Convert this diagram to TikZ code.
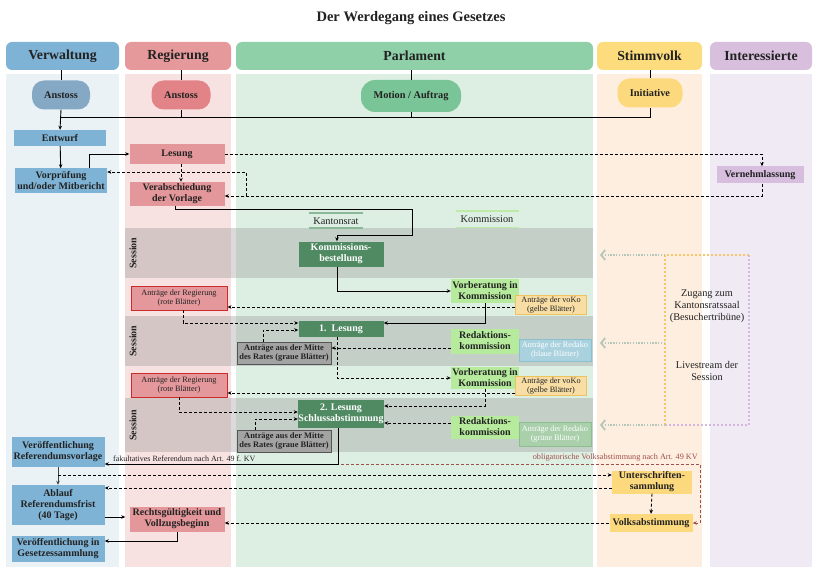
\documentclass[tikz,border=0pt]{standalone}
\usepackage{fontspec}
\setmainfont{Liberation Serif}
\usetikzlibrary{arrows.meta}
\definecolor{vwhead}{HTML}{7FB3D5}
\definecolor{vwbg}{HTML}{EAF2F6}
\definecolor{vwpill}{HTML}{85A9C5}
\definecolor{rghead}{HTML}{E6999B}
\definecolor{rgbg}{HTML}{F8E1E1}
\definecolor{rgpill}{HTML}{E28487}
\definecolor{rgnode}{HTML}{E3979A}
\definecolor{pahead}{HTML}{8FD0A8}
\definecolor{pabg}{HTML}{DDEEE3}
\definecolor{papill}{HTML}{7AC597}
\definecolor{svhead}{HTML}{FDDC7E}
\definecolor{svbg}{HTML}{FDEEDF}
\definecolor{svnode}{HTML}{FDD97D}
\definecolor{inhead}{HTML}{D8BFDD}
\definecolor{inbg}{HTML}{EFEAF3}
\definecolor{innode}{HTML}{D7BEDF}
\definecolor{sessgrey}{HTML}{969696}
\definecolor{darkgr}{HTML}{4F8A63}
\definecolor{lightgr}{HTML}{B6EB9E}
\definecolor{vokofill}{HTML}{F8DEA5}
\definecolor{vokodraw}{HTML}{EEC35E}
\definecolor{redfill}{HTML}{E4989C}
\definecolor{reddraw}{HTML}{CC2B2B}
\definecolor{greyfill}{HTML}{A3A3A3}
\definecolor{greydraw}{HTML}{555555}
\definecolor{bluefill}{HTML}{A9D2DE}
\definecolor{bluedraw}{HTML}{8CC0CF}
\definecolor{greenfill}{HTML}{A9CFAB}
\definecolor{greendraw}{HTML}{8DBE90}
\definecolor{krline}{HTML}{8CB89A}
\definecolor{koline}{HTML}{BDEBA5}
\definecolor{brownred}{HTML}{A0504A}
\definecolor{dotorange}{HTML}{F7C66B}
\definecolor{dotpurple}{HTML}{D4B6DE}
\definecolor{dotgrey}{HTML}{B5C6BB}
\definecolor{txt}{HTML}{222222}
\begin{document}
\begin{tikzpicture}[x=1pt,y=-1pt,
  header/.style={rounded corners=6pt, minimum height=28pt, inner sep=0pt,
    font=\bfseries\fontsize{13.8}{15}\selectfont, text=txt},
  pill/.style={rounded corners=12pt, minimum height=29pt, inner sep=2pt,
    font=\bfseries\fontsize{10.3}{11}\selectfont, text=txt},
  box/.style={minimum width=#1, inner sep=0.5pt, align=center,
    font=\bfseries\fontsize{10}{11}\selectfont, text=txt},
  small/.style={minimum width=#1, inner sep=0.5pt, align=center, line width=0.9pt,
    font=\fontsize{8.2}{9}\selectfont, text=txt},
  ln/.style={line width=0.9pt, draw=black},
  arr/.style={ln, -{Stealth[length=4pt,width=3.5pt]}},
  darr/.style={arr, dash pattern=on 3pt off 2pt},
  dotarr/.style={draw=dotgrey, line width=1.4pt, dash pattern=on 1.4pt off 1.4pt,
    -{Straight Barb[length=4pt,width=10pt,line width=1.8pt]}},
  sesslbl/.style={rotate=90, font=\bfseries\fontsize{10}{11}\selectfont, text=txt}
]
\useasboundingbox (0,0) rectangle (819,572);
\node[font=\bfseries\fontsize{14.5}{16}\selectfont, text=txt] (title) at (411,18) {Der Werdegang eines Gesetzes};
% lane backgrounds
\fill[vwbg] (6,74) rectangle (119,567);
\fill[rgbg] (125,74) rectangle (231,567);
\fill[pabg] (236,74) rectangle (593,567);
\fill[svbg] (597,74) rectangle (702,567);
\fill[inbg] (710,74) rectangle (812,567);
% headers
\node[header, fill=vwhead, minimum width=113pt] (hV) at (62.5,56) {Verwaltung};
\node[header, fill=rghead, minimum width=106pt] (hR) at (178,56) {Regierung};
\node[header, fill=pahead, minimum width=357pt] (hP) at (414.5,56) {Parlament};
\node[header, fill=svhead, minimum width=105pt] (hS) at (649.5,56) {Stimmvolk};
\node[header, fill=inhead, minimum width=102pt] (hI) at (761,56) {Interessierte};
% session bands
\fill[sessgrey, opacity=0.35] (125,228) rectangle (593,278);
\fill[sessgrey, opacity=0.35] (125,316) rectangle (593,366);
\fill[sessgrey, opacity=0.35] (125,398) rectangle (593,452);
\node[sesslbl] (s1) at (133,253) {Session};
\node[sesslbl] (s2) at (133,341) {Session};
\node[sesslbl] (s3) at (133,425) {Session};
% pills
\node[pill, fill=vwpill, minimum width=58pt] (aV) at (61,95) {Anstoss};
\node[pill, fill=rgpill, minimum width=59pt] (aR) at (181,95) {Anstoss};
\node[pill, fill=papill, minimum width=100pt, minimum height=32pt, rounded corners=14pt] (mot) at (411,96) {Motion / Auftrag};
\node[pill, fill=svnode, minimum width=65pt] (ini) at (650,93) {Initiative};
\draw[ln] (aV.north |- hV.south) -- (aV.north);
\draw[ln] (aR.north |- hR.south) -- (aR.north);
\draw[ln] (mot.north |- hP.south) -- (mot.north);
\draw[ln] (ini.north |- hS.south) -- (ini.north);
\coordinate (j) at (61,117);
\draw[ln] (aV.south |- j) -| (ini.south);
\draw[ln] (aR.south) -- (aR.south |- j);
\draw[ln] (mot.south) -- (mot.south |- j);
% Verwaltung / Regierung top
\node[box=92pt, fill=vwhead, minimum height=16pt] (entw) at (60,138) {Entwurf};
\draw[arr] (aV.south) -- (entw.north);
\node[box=92pt, fill=vwhead, minimum height=25pt] (vorp) at (61,181) {Vorprüfung\\und/oder Mitbericht};
\node[box=95pt, fill=rgnode, minimum height=20pt] (les) at (177,154) {Lesung};
\node[box=95pt, fill=rgnode, minimum height=24pt] (verab) at (177,194) {Verabschiedung\\der Vorlage};
\node[box=87pt, fill=innode, minimum height=17pt] (vern) at (760,175) {Vernehmlassung};
\draw[arr] (entw) -- (vorp);
\draw[arr] (89,168) |- (les.west);
\draw[darr] ([xshift=4pt]les.south) -- ([xshift=4pt]verab.north);
\draw[darr] (les.east) -| ([xshift=2pt]vern.north);
\coordinate (vb) at (246,196);
\draw[darr] ([xshift=2pt]vern.south) |- (verab.east |- vb);
\draw[darr] (vb) |- (vorp.east |- 0,172);
% Kantonsrat / Kommission labels
\node[font=\fontsize{10.3}{11}\selectfont, text=txt] (kr) at (336,221) {Kantonsrat};
\draw[krline, line width=1.6pt] (309,213) -- (363,213);
\draw[krline, line width=1.6pt] (309,228) -- (363,228);
\node[font=\fontsize{10.3}{11}\selectfont, text=txt] (ko) at (487,219) {Kommission};
\draw[koline, line width=1.6pt] (456,211) -- (519,211);
\draw[koline, line width=1.6pt] (456,227.5) -- (519,227.5);
% Session 1
\node[box=85pt, fill=darkgr, text=white, minimum height=25pt] (kb) at (341,254) {Kommissions-\\bestellung};
\draw[arr] ([xshift=-2pt]verab.south) |- (412,209) |- ([xshift=-4pt]kb.north |- 0,235) -- ([xshift=-4pt]kb.north);
\node[box=68pt, fill=lightgr, minimum height=24pt, inner sep=0pt] (vb1) at (485,291) {Vorberatung in\\Kommission};
\draw[arr] ([xshift=-4pt]kb.south) |- (vb1.west);
\node[small=71pt, fill=vokofill, draw=vokodraw, minimum height=19pt] (voko1) at (551,305) {Anträge der voKo\\(gelbe Blätter)};
\node[small=96pt, fill=redfill, draw=reddraw, minimum height=24pt] (ar1) at (179,298) {Anträge der Regierung\\(rote Blätter)};
\draw[darr] (voko1.west |- 0,307) -- (ar1.east |- 0,307);
% Session 2
\node[box=85pt, fill=darkgr, text=white, minimum height=16pt] (l1) at (341,329) {1.\ \ Lesung};
\draw[arr] (vb1.south) |- (l1.east |- 0,323);
\draw[darr] ([xshift=4pt]ar1.south) |- (l1.west |- 0,323);
\node[small=94pt, fill=greyfill, draw=greydraw, minimum height=22pt, font=\bfseries\fontsize{8.4}{9.2}\selectfont] (g1) at (284,353) {Anträge aus der Mitte\\des Rates (graue Blätter)};
\draw[darr] (g1.north -| 263,0) |- (l1.west |- 0,330);
\node[box=68pt, fill=lightgr, minimum height=25pt] (rk1) at (485,341) {Redaktions-\\kommission};
\node[small=72pt, fill=bluefill, draw=bluedraw, text=white, minimum height=22pt] (blau) at (555,350) {Anträge der Redako\\(blaue Blätter)};
\draw[darr] (rk1.west |- 0,348) -- (g1.east |- 0,348);
\node[box=68pt, fill=lightgr, minimum height=22pt, inner sep=0pt] (vb2) at (485,378) {Vorberatung in\\Kommission};
\draw[darr] ([xshift=-4pt]l1.south) |- (vb2.west);
\node[small=71pt, fill=vokofill, draw=vokodraw, minimum height=19pt] (voko2) at (551,386) {Anträge der voKo\\(gelbe Blätter)};
\node[small=96pt, fill=redfill, draw=reddraw, minimum height=24pt] (ar2) at (179,385) {Anträge der Regierung\\(rote Blätter)};
\draw[darr] (voko2.west |- 0,393) -- (ar2.east |- 0,393);
% Session 3
\node[box=85pt, fill=darkgr, text=white, minimum height=28pt] (l2) at (341,414) {2. Lesung\\Schlussabstimmung};
\draw[darr] (vb2.south) |- (l2.east |- 0,406);
\draw[darr] (ar2.south) |- (l2.west |- 0,412);
\node[small=94pt, fill=greyfill, draw=greydraw, minimum height=22pt, font=\bfseries\fontsize{8.4}{9.2}\selectfont] (g2) at (284,441) {Anträge aus der Mitte\\des Rates (graue Blätter)};
\draw[darr] (g2.north -| 255,0) |- (l2.west |- 0,419);
\node[box=68pt, fill=lightgr, minimum height=23pt] (rk2) at (485,427) {Redaktions-\\kommission};
\node[small=72pt, fill=greenfill, draw=greendraw, text=white, minimum height=24pt] (gruen) at (555,434) {Anträge der Redako\\(grüne Blätter)};
\draw[darr] (rk2.west |- 0,423) -- (l2.east |- 0,423);
% after parliament
\node[box=93pt, fill=vwhead, minimum height=30pt] (vr) at (58,452) {Veröffentlichung\\Referendumsvorlage};
\coordinate (cr) at (338,464);
\draw[arr] ([xshift=-3pt]l2.south) -- (cr) -- (vr.east |- cr);
\node[anchor=west, font=\fontsize{8}{9}\selectfont, text=txt, inner sep=0pt] (fak) at (113,459) {fakultatives Referendum nach Art. 49 f. KV};
\node[box=83pt, fill=svnode, minimum height=18pt] (va) at (651,523) {Volksabstimmung};
\coordinate (ob) at (700,464);
\draw[brownred, line width=0.9pt, dash pattern=on 3pt off 2pt, -{Stealth[length=4pt,width=3.5pt]}] ([xshift=3pt]cr) -- (ob) |- (va.east);
\node[anchor=east, font=\fontsize{8.2}{9}\selectfont, text=brownred, inner sep=0pt] (obl) at (698,458) {obligatorische Volksabstimmung nach Art. 49 KV};
\node[box=93pt, fill=vwhead, minimum height=40pt] (ab) at (58,505) {Ablauf\\Referendumsfrist\\(40 Tage)};
\draw[arr, draw=black!75] (vr.south) -- (ab.north);
\node[box=80pt, fill=svnode, minimum height=23pt] (us) at (652,482) {Unterschriften-\\sammlung};
\draw[darr] (vr.south |- 0,475) -- (us.west |- 0,475);
\draw[darr] (us.west |- 0,488) -- (ab.east |- 0,488);
\draw[darr] (us.south) -- (va.north);
\node[box=95pt, fill=rgnode, minimum height=25pt] (rg) at (177,519) {Rechtsgültigkeit und\\Vollzugsbeginn};
\draw[arr] (ab.east |- 0,517) -- ([xshift=-4pt]rg.west |- 0,517);
\draw[darr] (va.west) -- (rg.east |- va.west);
\node[box=93pt, fill=vwhead, minimum height=26pt] (gs) at (58,549) {Veröffentlichung in\\Gesetzessammlung};
\draw[arr] (rg.south) |- (gs.east |- 0,541);
% public access
\coordinate (o1) at (665,255);
\coordinate (o2) at (749,255);
\coordinate (o3) at (665,425);
\coordinate (o4) at (749,425);
\coordinate (o5) at (665,343);
\draw[dotpurple, line width=2pt, dash pattern=on 2pt off 2pt] (o2) -- (o4) -- (o3);
\draw[dotorange, line width=2pt, dash pattern=on 2pt off 2pt] (o2) -- (o1) -- (o3);
\draw[dotarr] (o1) -- (600,255);
\draw[dotarr] (o5) -- (600,343);
\draw[dotarr] (o3) -- (600,425);
\node[align=center, font=\fontsize{10.3}{12}\selectfont, text=txt] (zug) at (707,306) {Zugang zum\\Kantonsratssaal\\(Besuchertribüne)};
\node[align=center, font=\fontsize{10.3}{12}\selectfont, text=txt] (live) at (707,371) {Livestream der\\Session};
\end{tikzpicture}
\end{document}
